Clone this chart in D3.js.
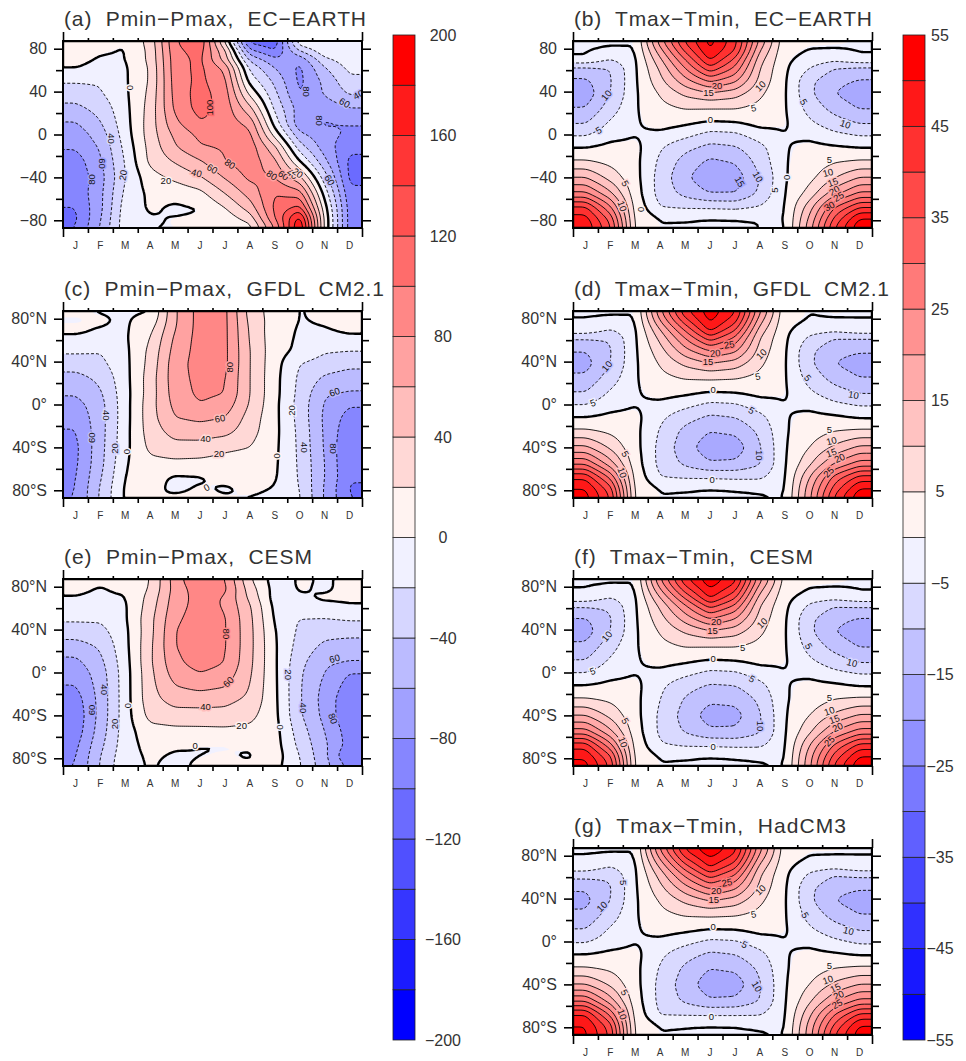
<!DOCTYPE html>
<html>
<head>
<meta charset="utf-8">
<script src="https://cdn.jsdelivr.net/npm/d3@7"></script>
<style>
body { margin: 0; background: #fff; }
text { font-family: "Liberation Sans", sans-serif; fill: #333; white-space: pre; }
</style>
</head>
<body>
<svg width="966" height="1061"></svg>
<script>
const months = ["J","F","M","A","M","J","J","A","S","O","N","D"];
const lats = [87,78,70,62,50,38,25,10,0,-12,-25,-40,-55,-68,-78,-87];

const pminEcEarth = [
[3,3,1,28,98,118,15,-110,-115,-2,1,-3],
[2,.6,-1,25,95,108,45,-75,-100,-40,-5,-5],
[3,-1,-1,25,92,105,50,-45,-75,-75,-25,-8],
[.5,-5,-3,22,92,105,75,-25,-60,-85,-42,-15],
[-18,-18,-3,22,90,105,85,-8,-45,-85,-55,-25],
[-30,-22,-4,25,88,108,90,15,-35,-82,-58,-38],
[-45,-32,-6,28,85,108,92,45,-25,-70,-72,-60],
[-62,-42,-8,30,75,98,92,75,-8,-75,-82,-80],
[-72,-50,-10,30,65,85,90,85,12,-55,-75,-82],
[-78,-58,-14,27,58,78,82,92,45,-30,-70,-95],
[-90,-63,-18,25,42,58,80,92,65,0,-55,-105],
[-95,-68,-20,12,25,38,62,85,80,45,-30,-105],
[-95,-65,-15,4,6,14,40,68,100,90,-8,-95],
[-100,-65,-10,2,-3,-.5,20,50,105,125,8,-90],
[-104,-62,-8,-1.5,.5,1,8,30,100,170,15,-90],
[-100,-58,-8,-.2,-.1,-.1,.5,12,80,185,15,-90]];

const pminGfdl = [
[1.5,-1,-2,-1.5,58,88,85,32,10,-1,3,6],
[-1,1.5,-2,6,58,88,85,35,10,-1,1,4],
[2,-1,-3,15,60,88,85,37,8,-2,-1,1.5],
[-2,-3,-3,20,64,88,85,38,8,-3,-3,-2],
[-17,-19,-5,25,68,88,85,40,8,-5,-18,-20],
[-30,-25,-6,27,72,88,85,40,7,-20,-28,-34],
[-47,-35,-7,30,72,86,82,40,6,-24,-43,-50],
[-58,-43,-8,30,70,84,80,40,6,-26,-58,-62],
[-68,-47,-8,32,66,79,72,38,5,-28,-62,-78],
[-75,-48,-8,32,60,65,60,32,5,-27,-64,-88],
[-81,-48,-7,30,48,50,47,28,5,-25,-63,-95],
[-85,-47,-6,25,33,32,24,20,4,-24,-62,-100],
[-84,-46,-2,14,15,14,12,10,3,-23,-60,-100],
[-82,-42,1,6,-3,-2,4,4,2,-22,-60,-98],
[-81,-38,3,3,-3,1,-2,2,-1,-20,-62,-102],
[-80,-37,3,-1,2,2,1,-1,-2,-18,-62,-100]];

const pminCesm = [
[1,2,3,20,70,102,80,22,-10,2,-2,3],
[2,-1,2,22,68,92,85,30,-8,1,-2,3],
[-1,-2,-1,27,70,88,78,35,-9,-2,1.5,1],
[-2,-3,-3,30,72,88,78,42,-6,-3,-3,-.5],
[-17,-17,-3,34,76,90,82,45,-3,-21,-21,-18],
[-30,-27,-5,34,80,92,82,46,.5,-24,-33,-32],
[-48,-37,-6,36,80,92,82,46,2,-28,-44,-50],
[-65,-45,-8,37,75,90,80,45,2.5,-34,-56,-60],
[-73,-50,-9,35,70,80,73,43,3,-37,-60,-80],
[-80,-52,-9,34,60,68,62,40,3.5,-38,-65,-88],
[-90,-53,-9,33,48,48,46,36,4,-38,-68,-95],
[-95,-53,-9,27,32,33,33,26,5,-37,-66,-97],
[-92,-50,-9,12,14,14,15,14,7,-30,-60,-90],
[-85,-45,-8,6,2,-.5,-1,2,8,-25,-56,-88],
[-82,-40,-6,2,-2.5,-.5,1,-2,10,-20,-55,-102],
[-80,-38,-4,.5,-3,2,2,3,6,-18,-52,-85]];

const tmaxEcEarth = [
[-.1,-.1,-.1,23,41,52,42,19,1.5,.5,.3,-.1],
[-.1,-.5,-.5,18,36,50,40,15,1,-.5,-.5,-.1],
[-.5,-5,-1,14,30,46,34,12,.7,-2,-3.5,-1],
[-11,-10,-1,11,25,39,29,10,.5,-5,-10,-11],
[-16,-10.5,-1,8.5,18,26,21,8.5,.3,-9,-13.5,-15.5],
[-18,-10,-1,5.5,11,14,12,6,.2,-9,-15,-18],
[-15,-7.5,-.8,3.5,5.5,5.5,5.5,3.5,.2,-7,-12,-15.5],
[-10,-4,-.8,1.5,.2,-1.5,-1,1,.3,-4,-7.5,-10],
[-5.5,-2,-.5,-1.5,-3.5,-6.5,-6,-2.5,-.4,-1.5,-4,-5.5],
[-.5,1,1,-4.5,-8.5,-11.5,-10.5,-6.5,-.6,1,.3,-.5],
[5.5,3.5,1,-6,-12,-16,-14.5,-8,-.6,2,4.5,5.5],
[15,8,1.3,-7,-14,-19,-18,-10,-.7,3.5,9.5,15],
[26,16,2,-7,-11.5,-15,-15,-9,-.5,7,18,26],
[41,26,3,-5,-5.5,-5.5,-6,-4.5,-.4,13,30,40],
[47,33,3.5,-.5,-.4,-.1,-.2,-.35,-.5,16,36,50],
[49,36,4,-.1,-.1,-.1,-.1,-.3,-.8,18,40,54]];

const tmaxGfdl = [
[-.1,-.1,-.1,24,44,53,46,21,1.5,-.2,.3,-.1],
[-.4,-.6,-.6,20,38,51,42,17,1,-.6,-.6,-.4],
[-1,-5,-1,15,31,47,36,13,.7,-2.5,-3,-.8],
[-9.5,-9.5,-1,11.5,25,38,29,10,.5,-6,-10,-10],
[-15,-10.5,-1,8,18,25,21,8,.3,-9,-13.5,-14.5],
[-17,-10,-1,5.5,11,14.5,12.5,6,.2,-9,-15,-17.5],
[-14,-7.5,-.8,3.5,5.5,6,5.5,3.5,.2,-7,-12,-15],
[-9.5,-4,-.8,1.3,.3,-1.2,-.7,.8,.2,-4,-7.5,-10],
[-5,-2,-.5,-1.5,-3.5,-6,-5.5,-2.5,-.4,-1.5,-4,-5.5],
[-.3,.8,1,-4,-8,-11,-10,-6.5,-.6,1,.5,-.8],
[6,4,1,-5.5,-11.5,-15,-14,-9,-.8,2.5,5,6],
[16,9,1.3,-6.5,-13,-18,-18,-10.5,-.8,5,11,16],
[29,17,2,-6.5,-11,-14.5,-14,-10.5,-.8,9,20,27],
[44,29,3,-5,-5.5,-5.5,-6,-6,-.8,15,32,42],
[50,37,3.5,-.6,-.4,-.1,-.3,-.6,-.8,18,37,50],
[52,40,4,-.1,-.1,-.1,-.1,-.1,-.4,19,41,54]];

const tmaxCesm = [
[-.1,-.1,-.1,25,44,54,47,22,3,.6,.3,-.1],
[-.3,-.6,-.6,20,38,50,42,17,2,-.3,-.4,-.2],
[-1,-5,-1,15,31,46,36,13,1.2,-2.5,-3,-.8],
[-9.5,-9,-1,11,24,37,29,10,.7,-6,-10,-9.5],
[-15.5,-10.5,-1,8,17,25,20,8,.3,-9,-13.5,-15.5],
[-17.5,-10,-1,5.5,10.5,14,12,6,.2,-9,-15,-18],
[-14,-7,-.8,3.5,5.5,5.5,5.5,3.5,.2,-7,-12,-15.5],
[-9.5,-4,-.8,1.3,.2,-1.2,-.7,.8,.2,-4,-7.5,-10.5],
[-5,-2,-.5,-1.5,-3.5,-6,-5.5,-2.5,-.4,-1.5,-4,-5.5],
[-.3,.8,1,-4,-8,-10.5,-10,-6.5,-.6,1,.5,-.8],
[5.5,4,1,-5,-10.5,-14,-13.5,-9,-.8,2,5,6],
[15,8.5,1.3,-6,-12,-17.5,-17,-10.5,-.8,5,11,15.5],
[27,16,2,-6,-10.5,-14,-14,-10.5,-.8,9,20,27],
[43,27,3,-4.5,-5.5,-5.5,-6,-6,-.8,15,31,42],
[49,36,3.5,-.6,-.4,-.1,-.3,-.6,-.8,18,37,50],
[52,39,4,-.1,-.1,-.1,-.1,-.1,-.4,19,41,54]];

const tmaxHadcm = [
[-.1,-.1,-.1,26,46,55,47,22,2,.3,.3,-.1],
[-.4,-.6,-.6,21,40,50,43,18,1.5,-.5,-.6,-.4],
[-1.5,-5,-1,16,33,46,37,13.5,1,-2.5,-3,-.8],
[-8,-9,-1,12,26,38,30,10.5,.6,-6,-10,-9],
[-14.5,-10.5,-1,8.5,18,26,21,8.5,.3,-9,-13.5,-14.5],
[-16.5,-10,-1,5.5,11,15,12.5,6,.2,-9,-15,-17.5],
[-14,-7.5,-.8,3.5,5.5,6,5.5,3.5,.2,-7,-12,-15],
[-9.5,-4,-.8,1.3,.3,-1,-.7,.8,.2,-4,-7.5,-10],
[-5.5,-2.5,-.5,-1.5,-3.5,-6,-5.5,-2.5,-.4,-1.5,-4,-6],
[-.3,.8,1,-4,-8,-11,-10,-6.5,-.6,1,.3,-.8],
[5.5,4,1,-5.5,-11,-15,-14,-9,-.8,2.5,5,6],
[15,9,1.3,-6.5,-12.5,-18,-18,-10.5,-.8,5,11,15],
[29,17,2,-6.5,-11,-14.5,-14,-10,-.8,9,19,26],
[45,29,3,-5.5,-5.5,-5.5,-5.5,-5.5,-.8,14,30,41],
[50,37,3.5,-.6,-.3,-.1,-.2,-.6,-.8,17,36,50],
[51,39,4,-.1,-.1,-.1,-.1,-.1,-.4,18,40,53]];

// contour labels: text, month position, latitude, rotation
const labelsA = [["0",2.72,43.7,90],["100",5.9,25,-90],["80",9.78,40,90],["60",11.3,29.5,30],["40",11.86,37,-30],["80",10.3,13,90],["40",1.92,-3.7,90],["60",1.58,-27,90],["80",1.14,-42,-90],["20",2.41,-38,-80],["20",4.13,-43.4,0],["40",5.36,-36,15],["60",5.99,-32,30],["80",6.7,-27.6,35],["80",8.38,-38,35],["60",8.85,-38,35],["40",9.2,-37,35],["20",9.42,-36,35],["60",10.7,-42.5,60]];
const labelsC = [["80",6.7,34.7,-90],["60",6.3,-13,-10],["40",5.72,-32,0],["20",6.26,-46,0],["0",2.55,-44,-90],["0",8.58,-48,-90],["20",2.08,-41,-90],["40",1.72,-10,90],["60",1.17,-31,-90],["20",9.16,-5.6,-90],["40",9.69,-40,90],["80",10.83,-41,90],["60",10.9,11.5,-20],["0",5.76,-77.5,-30]];
const labelsE = [["80",6.54,36,90],["60",6.64,-8.7,-45],["40",5.72,-32,0],["20",7.17,-50,0],["0",2.64,-31,90],["0",8.74,-51,90],["40",1.65,-16,90],["60",1.14,-35,-90],["20",2.08,-48,-90],["20",9.05,-2,90],["40",9.65,-33,90],["80",10.83,-43,70],["60",10.9,13,-15],["0",5.3,-68.5,0]];
const labelsB = [["10",1.34,36.6,-50],["5",1.03,4,-30],["0",5.51,14,0],["20",5.78,46,0],["15",5.44,38.8,0],["10",7.52,45,-45],["5",7.25,24.8,-10],["5",9.26,30.4,60],["10",10.93,9.6,20],["0",8.59,-40,-90],["5",10.29,-23.9,0],["10",10.23,-35.7,-15],["15",10.43,-44.6,-20],["20",10.49,-52.4,-30],["25",10.66,-58,-30],["30",10.29,-67,-30],["5",2.1,-45.6,60],["10",1.97,-66.7,70],["0",2.74,-69.8,90],["10",7.42,-39.4,60],["15",6.69,-44,60],["5",8.09,-51.8,-90]];
const labelsD = [["10",1.36,35.7,-50],["5",.8,1.5,-20],["0",5.62,13.6,0],["25",6.27,55.8,-10],["20",5.71,47.8,-5],["15",5.42,40,0],["10",7.56,47,-45],["5",7.42,26,-10],["5",9.42,24.8,50],["10",11.26,9,10],["5",7.16,-5.6,30],["10",7.48,-47.4,90],["5",10.29,-23.6,0],["10",10.37,-34,-15],["15",10.37,-45,-20],["20",10.7,-50,-25],["25",10.26,-63,-45],["5",2.1,-46,60],["10",1.97,-63.6,70],["0",5.58,-70,0]];
const labelsF = [["10",1.36,33.8,-50],["5",.79,1.2,-20],["0",5.62,13,0],["20",5.75,47,0],["15",5.6,39,0],["10",7.59,46,-45],["5",6.81,23,0],["5",9.46,24.5,60],["10",11.2,9,15],["5",7.18,-6,30],["10",7.52,-50,90],["5",10.29,-23.6,0],["10",10.29,-36,-20],["15",10.49,-43.7,-20],["20",10.62,-51,-25],["25",10.29,-64,-45],["5",2.1,-45,60],["10",2,-65,70],["0",5.62,-69.5,0]];
const labelsG = [["5",2.03,55,90],["10",1.16,32.6,-45],["0",5.62,13.6,0],["25",6.18,55,-10],["20",5.75,47,0],["15",5.65,39.4,0],["10",7.52,48,-45],["5",7.25,25.4,-10],["5",9.32,24.5,60],["10",11.06,10,15],["5",6.88,-3,25],["10",7.38,-42,60],["5",10.29,-23,0],["10",10.23,-35.7,-20],["15",10.53,-43.4,-25],["20",10.66,-50,-25],["25",10.6,-58.3,-30],["5",2.06,-47.4,60],["10",1.97,-68,70],["0",5.55,-70,0]];

const pLevels = d3.range(-200, 200, 20);
const tLevels = d3.range(-55, 55, 5);
const pBarTicks = [200,160,120,80,40,0,-40,-80,-120,-160,-200];
const tBarTicks = [55,45,35,25,15,5,-5,-15,-25,-35,-45,-55];
const latTicks = [80,40,0,-40,-80];
const latMinor = [60,20,-20,-60];
const zeroLine = -0.3;

const panels = [
  {title:"(a)  Pmin\u2212Pmax,  EC\u2212EARTH", len:302, left:63, top:41, values:pminEcEarth, levels:pLevels, labels:labelsA, hemi:false},
  {title:"(b)  Tmax\u2212Tmin,  EC\u2212EARTH", len:298, left:573, top:41, values:tmaxEcEarth, levels:tLevels, labels:labelsB, hemi:false},
  {title:"(c)  Pmin\u2212Pmax,  GFDL  CM2.1", len:320, left:63, top:311, values:pminGfdl, levels:pLevels, labels:labelsC, hemi:true},
  {title:"(d)  Tmax\u2212Tmin,  GFDL  CM2.1", len:315, left:573, top:311, values:tmaxGfdl, levels:tLevels, labels:labelsD, hemi:true},
  {title:"(e)  Pmin\u2212Pmax,  CESM", len:248, left:63, top:579, values:pminCesm, levels:pLevels, labels:labelsE, hemi:true},
  {title:"(f)  Tmax\u2212Tmin,  CESM", len:239, left:573, top:579, values:tmaxCesm, levels:tLevels, labels:labelsF, hemi:true},
  {title:"(g)  Tmax\u2212Tmin,  HadCM3", len:272, left:573, top:848, values:tmaxHadcm, levels:tLevels, labels:labelsG, hemi:true}
];

const svg = d3.select("svg");
const panelW = 299, panelH = 187;
const fineW = 150, fineH = 94;

function bandColor(levels) {
  const half = levels.length / 2;
  const red = d3.scaleLinear().domain([0, half - 1]).range(["#fff3f1", "#ff0000"]);
  const blue = d3.scaleLinear().domain([0, half - 1]).range(["#f1f1ff", "#0000ff"]);
  return v => {
    const i = d3.bisectRight(levels, v) - 1 - half;
    return i >= 0 ? red(Math.min(i, half - 1)) : blue(Math.min(-i - 1, half - 1));
  };
}

// resample the read grid on a fine mesh so the contours come out smooth
function fineField(values) {
  const rowOf = d3.scaleLinear().domain(lats).range(d3.range(lats.length)).clamp(true);
  const latOf = d3.scaleLinear().domain([0, fineH]).range([87.2, -87.2]);
  const data = new Float64Array(fineW * fineH);
  for (let j = 0; j < fineH; j++) {
    const r = rowOf(latOf(j + 0.5));
    const r0 = Math.min(Math.floor(r), lats.length - 2);
    for (let i = 0; i < fineW; i++) {
      const c = Math.max(0, Math.min(11, (i + 0.5) / fineW * 12 - 0.5));
      const c0 = Math.min(Math.floor(c), 10);
      const a = d3.interpolateNumber(values[r0][c0], values[r0][c0 + 1])(c - c0);
      const b = d3.interpolateNumber(values[r0 + 1][c0], values[r0 + 1][c0 + 1])(c - c0);
      data[j * fineW + i] = a + (b - a) * (r - r0);
    }
  }
  d3.blur2({data, width: fineW, height: fineH}, 1);
  return data;
}

panels.forEach((p, n) => {
  const x = d3.scaleLinear().domain([0, 12]).range([p.left, p.left + panelW]);
  const y = d3.scaleLinear().domain([87.2, -87.2]).range([p.top, p.top + panelH]);
  const color = bandColor(p.levels);
  const field = fineField(p.values);
  const contour = d3.contours().size([fineW, fineH]);
  const path = d3.geoPath(d3.geoTransform({
    point(a, b) { this.stream.point(x(a / fineW * 12), y(b / fineH * 174.4 * -1 + 87.2)); }
  }));

  svg.append("clipPath").attr("id", "clip" + n).append("rect")
    .attr("x", p.left).attr("y", p.top).attr("width", panelW).attr("height", panelH);
  const g = svg.append("g").attr("clip-path", `url(#clip${n})`);

  g.append("rect").attr("x", p.left).attr("y", p.top).attr("width", panelW).attr("height", panelH)
    .attr("fill", color(p.levels[0]));
  p.levels.forEach(l => {
    g.append("path").attr("d", path(contour.contour(field, l))).attr("fill", color(l + 0.01));
  });

  p.levels.filter(l => l !== p.levels[0]).forEach(l => {
    const level = l === 0 ? zeroLine : l;
    g.append("path").attr("d", path(contour.contour(field, level)))
      .attr("fill", "none").attr("stroke", "#000")
      .attr("stroke-width", l === 0 ? 2.4 : 0.9)
      .attr("stroke-dasharray", l < 0 ? "3,2" : null);
  });

  // contour labels, knocked out with the colour underneath
  p.labels.forEach(([t, m, lat, rot]) => {
    const i = Math.max(0, Math.min(fineW - 1, Math.floor(m / 12 * fineW)));
    const j = Math.max(0, Math.min(fineH - 1, Math.floor((87.2 - lat) / 174.4 * fineH)));
    g.append("text")
      .attr("transform", `translate(${x(m)},${y(lat)}) rotate(${rot})`)
      .attr("text-anchor", "middle").attr("dy", "0.35em")
      .attr("font-size", 9.5)
      .style("fill", "#111")
      .attr("stroke", color(field[j * fineW + i]))
      .attr("stroke-width", 3).attr("paint-order", "stroke")
      .text(t);
  });

  // frame and axes
  const latFormat = v => {
    if (!p.hemi) return v < 0 ? "\u2212" + (-v) : "" + v;
    return v === 0 ? "0\u00b0" : Math.abs(v) + (v > 0 ? "\u00b0N" : "\u00b0S");
  };
  const left = g2 => g2.call(d3.axisLeft(y).tickValues(latTicks).tickSize(9).tickPadding(7).tickFormat(latFormat));
  const right = g2 => g2.call(d3.axisRight(y).tickValues(latTicks).tickSize(9).tickFormat(""));
  const axes = svg.append("g");
  axes.append("g").attr("transform", `translate(${p.left},0)`).call(left);
  axes.append("g").attr("transform", `translate(${p.left + panelW},0)`).call(right);
  axes.append("g").attr("transform", `translate(${p.left},0)`)
    .call(d3.axisLeft(y).tickValues(latMinor).tickSize(7).tickFormat(""));
  axes.append("g").attr("transform", `translate(${p.left + panelW},0)`)
    .call(d3.axisRight(y).tickValues(latMinor).tickSize(7).tickFormat(""));
  axes.append("g").attr("transform", `translate(0,${p.top + panelH})`)
    .call(d3.axisBottom(x).tickValues(d3.range(1, 12)).tickSize(5).tickFormat(""));
  axes.append("g").attr("transform", `translate(0,${p.top})`)
    .call(d3.axisTop(x).tickValues(d3.range(1, 12)).tickSize(3).tickFormat(""));
  axes.append("g").attr("transform", `translate(0,${p.top + panelH})`)
    .call(d3.axisBottom(x).tickValues([0, 12]).tickSize(9).tickFormat(""));
  axes.append("g").attr("transform", `translate(0,${p.top})`)
    .call(d3.axisTop(x).tickValues([0, 12]).tickSize(9).tickFormat(""));
  axes.selectAll(".domain").remove();
  axes.selectAll("line").attr("stroke", "#000").attr("stroke-width", 1.6);
  axes.selectAll("text").attr("font-size", 16).style("font-family", '"Liberation Sans", sans-serif').style("fill", "#333");

  months.forEach((m, i) => {
    svg.append("text").attr("x", x(i + 0.5)).attr("y", p.top + panelH + 21)
      .attr("text-anchor", "middle").attr("font-size", 10).text(m);
  });

  svg.append("rect").attr("x", p.left).attr("y", p.top).attr("width", panelW).attr("height", panelH)
    .attr("fill", "none").attr("stroke", "#000").attr("stroke-width", 2);

  svg.append("text").attr("x", p.left + 1).attr("y", p.top - 15)
    .attr("font-size", 21).attr("textLength", p.len).attr("lengthAdjust", "spacing")
    .text(p.title);
});

// colour bars
function colorBar(levels, ticks, left, labelX) {
  const color = bandColor(levels);
  const step = levels[1] - levels[0];
  const y = d3.scaleLinear().domain([levels[0], levels[levels.length - 1] + step]).range([1040, 35]);
  levels.forEach(l => {
    svg.append("rect").attr("x", left).attr("y", y(l + step)).attr("width", 22)
      .attr("height", y(l) - y(l + step))
      .attr("fill", color(l + step / 100)).attr("stroke", "#222").attr("stroke-width", 0.8);
  });
  ticks.forEach(t => {
    svg.append("text").attr("x", labelX).attr("y", y(t)).attr("dy", "0.35em")
      .attr("text-anchor", "middle").attr("font-size", 16)
      .text(t < 0 ? "\u2212" + (-t) : t);
  });
}
colorBar(pLevels, pBarTicks, 393, 443);
colorBar(tLevels, tBarTicks, 903, 940);
</script>
</body>
</html>
